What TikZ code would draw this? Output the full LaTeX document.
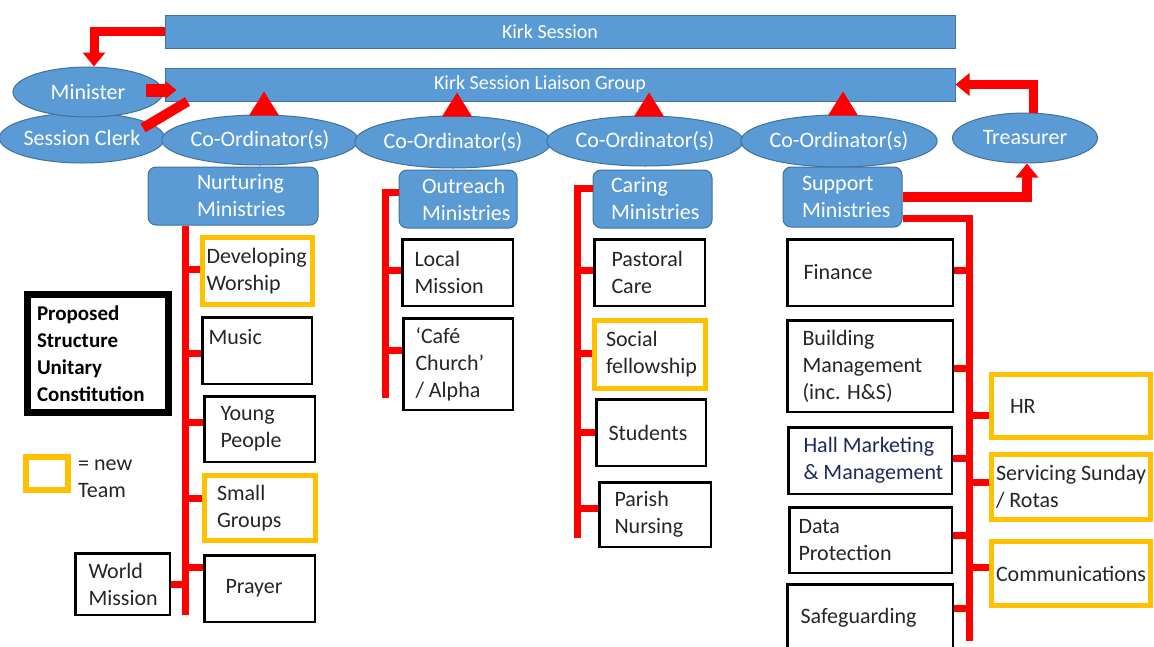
\documentclass[tikz,border=0pt]{standalone}
\usepackage{fontspec}
\setmainfont{Carlito}
\usetikzlibrary{shapes.geometric,arrows.meta,calc}
\hyphenpenalty=10000
\exhyphenpenalty=10000
\definecolor{mblue}{HTML}{5B9BD5}
\definecolor{mblueline}{HTML}{41719C}
\definecolor{mred}{HTML}{FF0000}
\definecolor{myellow}{HTML}{FFC000}
\definecolor{mtext}{HTML}{262626}
\definecolor{mnavy}{HTML}{1F2A5C}
\begin{document}
\begin{tikzpicture}[x=1pt,y=-1pt,
  every node/.style={font=\fontsize{22}{27}\selectfont},
  bar/.style={rectangle, fill=mblue, draw=mblueline, line width=1pt, text=white,
    font=\fontsize{20}{24}\selectfont, minimum width=790, minimum height=33, inner sep=0},
  oval/.style={ellipse, fill=mblue, draw=mblueline, line width=1pt, text=white, inner sep=0},
  ministry/.style={rectangle, rounded corners=8pt, fill=mblue, draw=mblueline, line width=1pt,
    text=white, align=flush left, inner ysep=0},
  team/.style={rectangle, draw=black, line width=2.5pt, text=mtext, align=flush left, inner ysep=0},
  newteam/.style={team, draw=myellow, line width=5pt},
  feed/.style={draw=mred, line width=9pt, -{Triangle[width=22pt,length=14pt]}},
  spine/.style={draw=mred, line width=7pt},
  stub/.style={draw=mred, line width=7pt}]

\fill[white] (0,0) rectangle (1154,646);
\useasboundingbox (0,0) rectangle (1154,646);

% governing bars
\node[bar] (ks) at (560,31.5) {\hspace*{-20pt}Kirk Session};
\node[bar] (lg) at (560,84.5) {\hspace*{-40pt}Kirk Session Liaison Group};

% office bearers and co-ordinators
\node[oval, minimum width=146, minimum height=50] (sc) at (82,138) {Session Clerk};
\node[oval, minimum width=150, minimum height=50] (min) at (88,92) {Minister};
\node[oval, minimum width=194, minimum height=50] (co1) at (260,140) {Co-Ordinator(s)};
\node[oval, minimum width=194, minimum height=52] (co2) at (453,142) {Co-Ordinator(s)};
\node[oval, minimum width=194, minimum height=50] (co3) at (645,141) {Co-Ordinator(s)};
\node[oval, minimum width=192, minimum height=52] (co4) at (839,141) {Co-Ordinator(s)};
\node[oval, minimum width=145, minimum height=50] (tr) at (1025,138) {Treasurer};

% ministry groups
\node[ministry, minimum width=170, minimum height=58, inner xsep=49, text width=72] (nurt) at (233,196) {Nurturing\\Ministries};
\node[ministry, minimum width=118, minimum height=58, inner xsep=23, text width=72] (out) at (458,199) {Outreach\\Ministries};
\node[ministry, minimum width=119, minimum height=58, inner xsep=18, text width=83] (car) at (652.5,199) {Caring\\Ministries};
\node[ministry, minimum width=119, minimum height=60, inner xsep=19, text width=81] (sup) at (842.5,197) {Support\\Ministries};

% nurturing teams
\node[newteam, minimum width=110, minimum height=67, inner xsep=4, text width=102] (dw) at (257.5,271) {Developing\\Worship};
\node[team, minimum width=109.5, minimum height=66.5, inner xsep=6, text width=97] (mu) at (257,350.5) {Music\\\mbox{}};
\node[team, minimum width=110.5, minimum height=65.5, inner xsep=16, text width=78] (yp) at (259.5,429) {Young\\People};
\node[newteam, minimum width=111, minimum height=65, inner xsep=12.5, text width=86] (sg) at (260,508) {Small\\Groups};
\node[team, minimum width=110.5, minimum height=66.5, inner xsep=21, text width=68] (pr) at (259.5,588.5) {Prayer};
\node[team, minimum width=94.5, minimum height=61.5, inner xsep=13, text width=68] (wm) at (122.5,584) {World\\Mission};

% outreach teams
\node[team, minimum width=110.5, minimum height=66.5, inner xsep=12, text width=86] (lm) at (457.5,272.5) {Local\\Mission};
\node[team, minimum width=109.5, minimum height=91.5, inner xsep=12, text width=85] (cafe) at (458,364) {‘Café\\Church’\\/ Alpha};

% caring teams
\node[team, minimum width=110.5, minimum height=66.5, inner xsep=17, text width=76] (pc) at (649.5,272.5) {Pastoral\\Care};
\node[newteam, minimum width=111, minimum height=68, inner xsep=11.5, text width=88] (sf) at (650,354.5) {Social\\fellowship};
\node[team, minimum width=109.5, minimum height=66.5, inner xsep=12, text width=85] (st) at (651,432.5) {Students};
\node[team, minimum width=111.5, minimum height=64.5, inner xsep=15, text width=81] (pn) at (655,514.5) {Parish\\Nursing};

% support teams
\node[team, minimum width=165.5, minimum height=66.5, inner xsep=16, text width=133] (fin) at (870,272.5) {Finance};
\node[team, minimum width=165.5, minimum height=91.5, inner xsep=15, text width=135] (bm) at (870,366) {Building\\Management\\(inc. H\&S)};
\node[team, text=mnavy, minimum width=163.5, minimum height=66.5, inner xsep=15, text width=133] (hall) at (870,460.5) {\mbox{Hall Marketing}\\\mbox{\& Management}};
\node[team, minimum width=162.5, minimum height=65.5, inner xsep=9, text width=144] (dp) at (870.5,540) {Data\\Protection};
\node[team, minimum width=165.5, minimum height=66.5, inner xsep=13, text width=139] (sfg) at (870,617.5) {Safeguarding};
\node[newteam, minimum width=159, minimum height=63, inner xsep=18.5, text width=122] (hr) at (1071,406) {HR};
\node[newteam, minimum width=159, minimum height=65, inner xsep=4.5, text width=150] (serv) at (1071,487) {\mbox{Servicing Sunday}\\/ Rotas};
\node[newteam, minimum width=159, minimum height=64, inner xsep=4.5, text width=150] (comm) at (1071,573.5) {Communications};

% legend
\node[team, draw=black, text=black, line width=7pt, minimum width=141, minimum height=118, inner xsep=9.5, text width=122,
  font=\fontsize{21}{27}\selectfont\bfseries] (prop) at (98,353.5) {Proposed\\Structure\\Unitary\\Constitution};
\node[rectangle, draw=myellow, line width=6pt, minimum width=42, minimum height=33, inner sep=0] (key) at (47,473.5) {};
\node[anchor=west, align=flush left, text=mtext, inner sep=0] (keytext) at (78,478.5) {= new\\Team};

% reporting lines
\draw[feed] (ks.west) -| ([xshift=6pt]min.north);
\draw[feed, line width=13pt, -{Triangle[width=17pt,length=11pt]}] ($(min.east)+(-18,-2)$) -- ($(lg.west)+(12,5.5)$);
\draw[mred, line width=10pt] ($(sc)+(61,-10)$) -- ($(lg.south west)+(23,0)$);
\foreach \c in {co1,co2,co3,co4}
  \fill[mred] ($(\c.north)+(-11,1)$) -- ($(\c.north)+(19,1)$) -- ($(\c.north)+(4,-23)$) -- cycle;
\draw[feed] ([xshift=8pt]tr.north) |- (lg.east);
\draw[feed, line width=10pt] (sup.east) -| ([xshift=2pt]tr.south);

% nurturing tree
\coordinate (nBot) at (185,615);
\draw[spine] (nurt.south -| nBot) -- (nBot);
\draw[stub] ([yshift=2pt]dw.west) -- ([yshift=2pt]dw.west -| nBot);
\draw[stub] ([yshift=-2.5pt]mu.west) -- ([yshift=-2.5pt]mu.west -| nBot);
\draw[stub] ([yshift=7pt]yp.west) -- ([yshift=7pt]yp.west -| nBot);
\draw[stub] ([yshift=10pt]sg.west) -- ([yshift=10pt]sg.west -| nBot);
\draw[stub] ([yshift=21.5pt]pr.west) -- ([yshift=21.5pt]pr.west -| nBot);
\draw[stub] (wm.east) -- (wm.east -| nBot);

% outreach tree
\coordinate (oBot) at (385,398);
\draw[spine] ([yshift=7pt]out.west) -| (oBot);
\draw[stub] ([yshift=2.5pt]lm.west) -- ([yshift=2.5pt]lm.west -| oBot);
\draw[stub] ([yshift=14pt]cafe.west) -- ([yshift=14pt]cafe.west -| oBot);

% caring tree
\coordinate (cBot) at (577,538);
\draw[spine] ([yshift=11pt]car.west) -| (cBot);
\draw[stub] ([yshift=2.5pt]pc.west) -- ([yshift=2.5pt]pc.west -| cBot);
\draw[stub] ([yshift=1.5pt]sf.west) -- ([yshift=1.5pt]sf.west -| cBot);
\draw[stub] (st.west) -- (st.west -| cBot);
\draw[stub] ([yshift=6.5pt]pn.west) -- ([yshift=6.5pt]pn.west -| cBot);

% support tree
\coordinate (sBot) at (969,641);
\draw[spine] ($(sup.east)+(0,21)$) -| (sBot);
\draw[stub] ([yshift=2.5pt]fin.east) -- ([yshift=2.5pt]fin.east -| sBot);
\draw[stub] ([yshift=-2pt]bm.east) -- ([yshift=-2pt]bm.east -| sBot);
\draw[stub] ([yshift=2.5pt]hall.east) -- ([yshift=2.5pt]hall.east -| sBot);
\draw[stub] ([yshift=5pt]dp.east) -- ([yshift=5pt]dp.east -| sBot);
\draw[stub] ([yshift=9.5pt]sfg.east) -- ([yshift=9.5pt]sfg.east -| sBot);
\draw[stub] ([yshift=-9pt]hr.west) -- ([yshift=-9pt]hr.west -| sBot);
\draw[stub] ([yshift=5pt]serv.west) -- ([yshift=5pt]serv.west -| sBot);
\draw[stub] ([yshift=6.5pt]comm.west) -- ([yshift=6.5pt]comm.west -| sBot);
\end{tikzpicture}
\end{document}
